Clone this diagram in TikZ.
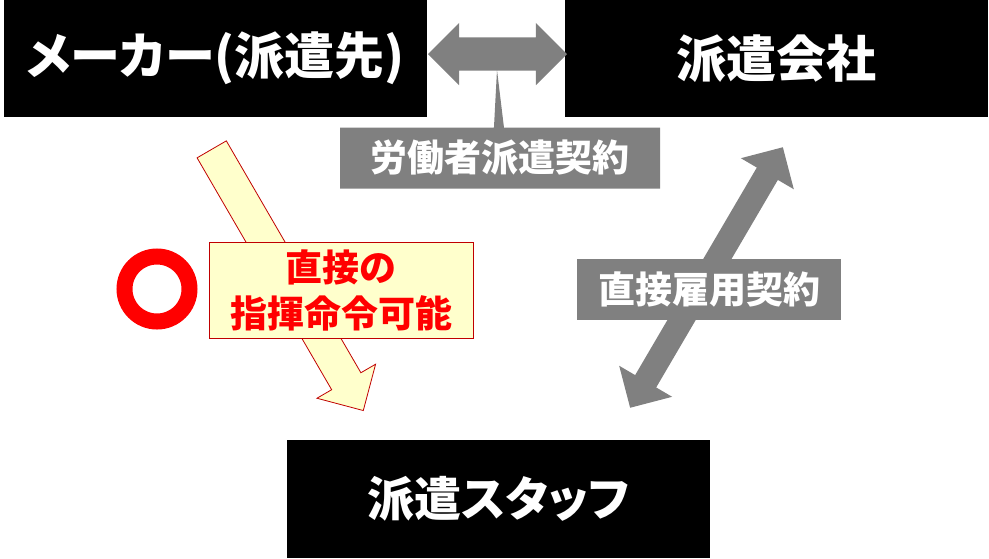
\documentclass[tikz,border=0pt]{standalone}
\usepackage{fontspec}
\setmainfont{Noto Sans CJK JP}
\usepackage{xcolor}
\usetikzlibrary{shapes.arrows, shapes.callouts}

\definecolor{darkred}{HTML}{C00000}
\definecolor{paleyellow}{HTML}{FFFFCC}
\definecolor{midgray}{HTML}{808080}

\begin{document}
\begin{tikzpicture}[
    x=1pt, y=-1pt,
    box/.style={rectangle, fill=black, text=white, minimum width=423pt, minimum height=117pt, font=\fontsize{50}{58}\selectfont\bfseries\addfontfeature{RawFeature=+palt}},
    tag/.style={rectangle, fill=midgray, text=white, minimum height=61pt, font=\fontsize{37}{44}\selectfont\bfseries},
    fat/.style={double arrow, fill=midgray, inner xsep=0pt}
]

\useasboundingbox (0,0) rectangle (989,558);

\node[box] (maker) at (215.5,58.5) {メーカー(派遣先)};
\node[box] (agency) at (776.5,58.5) {派遣会社};
\node[box, minimum height=118pt, font=\fontsize{47}{56}\selectfont\bfseries\addfontfeature{RawFeature=+palt}] (staff) at (498.5,499) {派遣スタッフ};

% command line, maker to staff
\node[single arrow, draw=darkred, line width=0.8pt, fill=paleyellow, inner xsep=0pt, inner ysep=16.5pt, minimum height=302pt, single arrow head extend=17pt, rotate=-59.87, anchor=tail] (order) at (211.5,149) {};
\node[rectangle, draw=darkred, line width=0.8pt, fill=paleyellow, text=red, minimum width=264pt, minimum height=96pt, align=center, font=\fontsize{37}{46}\selectfont\bfseries] (note) at (341,290) {直接の\\指揮命令可能};
\node[circle, draw=red, line width=16pt, minimum size=65pt, inner sep=0pt] (ok) at (157,289) {};

% dispatch contract
\coordinate (pin) at (497,70);
\node[tag, rectangle callout, minimum width=320pt, callout absolute pointer={(pin)}, callout pointer width=10pt] (contract) at (500,158) {労働者派遣契約};
\node[fat, inner ysep=16.5pt, minimum height=139pt, double arrow head extend=14.5pt] (link) at (497.5,54) {};

% employment contract
\node[fat, inner ysep=12pt, minimum height=302pt, double arrow head extend=18.5pt, rotate=59.62] (hire) at (706.5,277.5) {};
\node[tag, minimum width=264pt] (direct) at (709,289) {直接雇用契約};

\end{tikzpicture}
\end{document}
